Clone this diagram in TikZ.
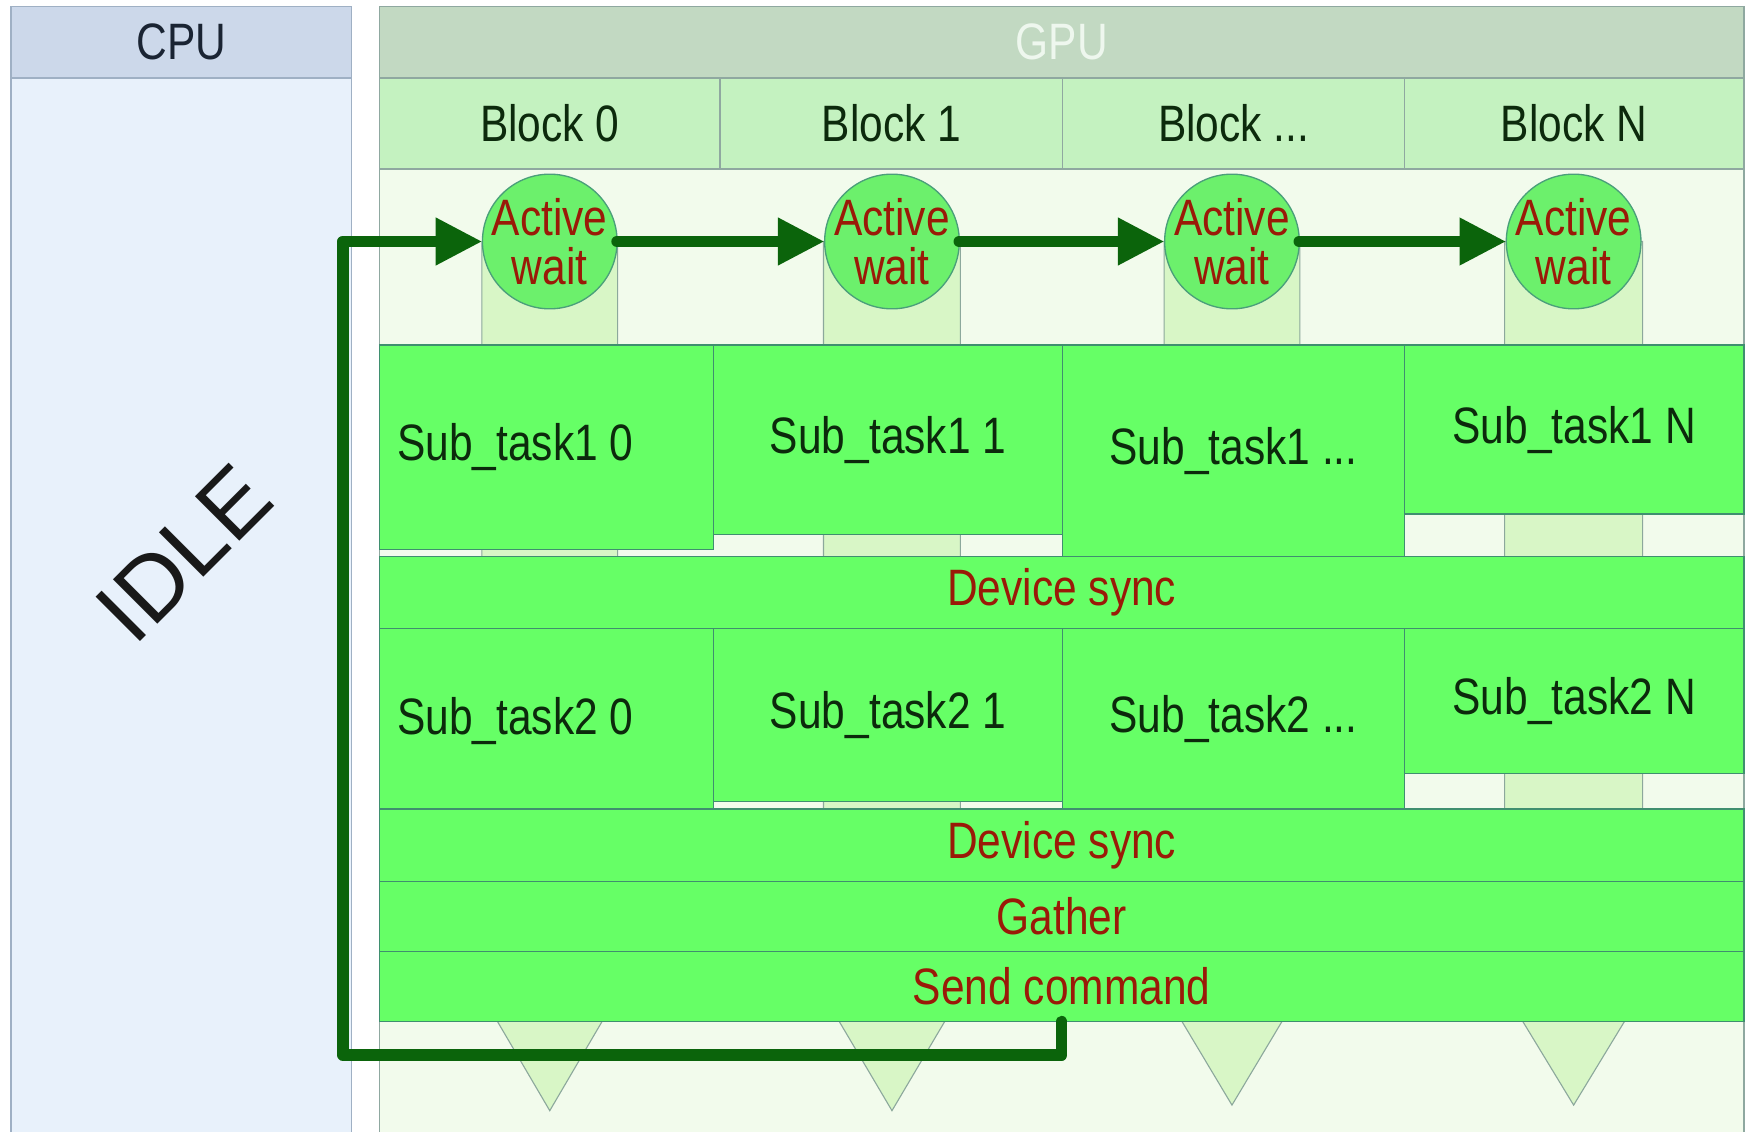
\documentclass[tikz,border=0pt]{standalone}
\usepackage{fontspec}
\setmainfont{Liberation Sans}
\newfontfamily\narrowsans[FakeStretch=0.83]{Liberation Sans}
\usetikzlibrary{arrows.meta}

\definecolor{cpubg}{HTML}{E8F1FB}
\definecolor{cpuhead}{HTML}{CCD8EA}
\definecolor{cpuline}{HTML}{9FB0C4}
\definecolor{gpubg}{HTML}{F2FBEC}
\definecolor{gpuhead}{HTML}{C2D9C2}
\definecolor{gpuline}{HTML}{8FA8A0}
\definecolor{blockhead}{HTML}{C4F2C0}
\definecolor{lane}{HTML}{D8F6C6}
\definecolor{laneline}{HTML}{8CA89C}
\definecolor{task}{HTML}{66FF66}
\definecolor{taskline}{HTML}{3F8F6F}
\definecolor{waitfill}{HTML}{6CF06C}
\definecolor{waitline}{HTML}{4A9F7A}
\definecolor{flow}{HTML}{0B640B}
\definecolor{redtxt}{HTML}{9A1A08}
\definecolor{darktxt}{HTML}{0C2A0C}
\definecolor{headtxt}{HTML}{1A2433}
\definecolor{gputxt}{HTML}{EEF7EE}

\newcommand\labelfont{\narrowsans\fontsize{23}{22}\selectfont}

\begin{document}
\begin{tikzpicture}[x=0.5pt,y=-0.5pt,
  every node/.style={inner sep=0pt, outer sep=0pt},
  txt/.style={font=\labelfont, text=darktxt},
  redlbl/.style={font=\labelfont, text=redtxt, align=center},
  header/.style={draw=#1line, fill=#1head, line width=0.7pt, minimum height=32pt, font=\labelfont},
  blockcell/.style={draw=gpuline, fill=blockhead, line width=0.6pt, minimum width=#1, minimum height=41pt, font=\labelfont, text=darktxt},
  taskbox/.style={draw=taskline, fill=task, line width=0.6pt, rectangle},
  bar/.style={taskbox, minimum width=613pt, font=\labelfont, text=redtxt},
  waitnode/.style={circle, draw=waitline, fill=waitfill, line width=0.6pt, minimum size=60.5pt},
  lanebody/.style={draw=laneline, fill=lane, line width=0.5pt},
  flowline/.style={draw=flow, line width=5.2pt, line join=round, line cap=round,
    -{Triangle[length=21pt,width=20pt]}}
]
\useasboundingbox (0,0) rectangle (1568,1017);
\fill[white] (0,0) rectangle (1568,1017);

% CPU and GPU columns
\draw[cpuline, fill=cpubg, line width=0.7pt] (10,70) rectangle (316,1030);
\draw[gpuline, fill=gpubg, line width=0.7pt] (341,70) rectangle (1567,1030);
\node[header=cpu, minimum width=153pt, text=headtxt] (cpu) at (163,38) {CPU};
\node[header=gpu, minimum width=613pt, text=gputxt] (gpu) at (954,38) {GPU};

\node[rotate=45, font=\fontsize{41}{41}\selectfont, text=black!90] (idle) at (165,497) {IDLE};

% block headers
\node[blockcell=153pt] (b0) at (494,111) {Block 0};
\node[blockcell=154pt] (b1) at (801,111) {Block 1};
\node[blockcell=153.5pt] (b2) at (1108.5,111) {Block ...};
\node[blockcell=152.5pt] (b3) at (1414.5,111) {Block N};

% per-block lanes ending in a downward point
\path[lanebody] (433,217) -- (555,217) -- (555,894) -- (494,998) -- (433,894) -- cycle;
\path[lanebody] (740,217) -- (863,217) -- (863,894) -- (801.5,998) -- (740,894) -- cycle;
\path[lanebody] (1046,217) -- (1168,217) -- (1168,891) -- (1107,993) -- (1046,891) -- cycle;
\path[lanebody] (1352,217) -- (1476,217) -- (1476,891) -- (1414,993) -- (1352,891) -- cycle;

% active wait
\node[waitnode] (w0) at (494,217) {};
\node[waitnode] (w1) at (801.5,217) {};
\node[waitnode] (w2) at (1107,217) {};
\node[waitnode] (w3) at (1414,217) {};
\node[redlbl] (w0lbl) at (w0) {Active\\wait};
\node[redlbl] (w1lbl) at (w1) {Active\\wait};
\node[redlbl] (w2lbl) at (w2) {Active\\wait};
\node[redlbl] (w3lbl) at (w3) {Active\\wait};

% first sub-task row
\node[taskbox, minimum width=150pt, minimum height=92pt] (t10) at (491,402) {};
\node[txt, anchor=west] (t10txt) at (357,402) {Sub\_task1 0};
\node[taskbox, minimum width=157pt, minimum height=85pt, font=\labelfont, text=darktxt] (t11) at (798,395) {Sub\_task1 1};
\node[taskbox, minimum width=153.5pt, minimum height=95pt, font=\labelfont, text=darktxt] (t1d) at (1108.5,405) {Sub\_task1 ...};
\node[taskbox, minimum width=152.5pt, minimum height=76pt, font=\labelfont, text=darktxt] (t1n) at (1414.5,386) {Sub\_task1 N};

% second sub-task row
\node[taskbox, minimum width=150pt, minimum height=81pt] (t20) at (491,646) {};
\node[txt, anchor=west] (t20txt) at (357,648) {Sub\_task2 0};
\node[taskbox, minimum width=157pt, minimum height=77.5pt, font=\labelfont, text=darktxt] (t21) at (798,642.5) {Sub\_task2 1};
\node[taskbox, minimum width=153.5pt, minimum height=81pt, font=\labelfont, text=darktxt] (t2d) at (1108.5,646) {Sub\_task2 ...};
\node[taskbox, minimum width=152.5pt, minimum height=65pt, font=\labelfont, text=darktxt] (t2n) at (1414.5,630) {Sub\_task2 N};

% full-width stages
\node[bar, minimum height=32.5pt] (sync1) at (954,532.5) {Device sync};
\node[bar, minimum height=32.5pt] (sync2) at (954,759.5) {Device sync};
\node[bar, minimum height=31.5pt] (gather) at (954,823.5) {Gather};
\node[bar, minimum height=31.5pt] (send) at (954,886.5) {Send command};

% control flow
\coordinate (loopcorner) at (308,948);
\draw[flowline] (send.south) |- (loopcorner) |- (w0.west);
\draw[flowline] (w0.east) -- (w1.west);
\draw[flowline] (w1.east) -- (w2.west);
\draw[flowline] (w2.east) -- (w3.west);
\end{tikzpicture}
\end{document}
